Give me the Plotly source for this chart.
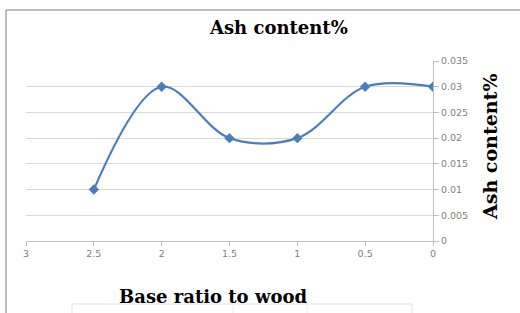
import plotly.graph_objects as go

base_ratio = [2.5, 2, 1.5, 1, 0.5, 0]
ash_content = [0.01, 0.03, 0.02, 0.02, 0.03, 0.03]
x_ticks = [3, 2.5, 2, 1.5, 1, 0.5, 0]
y_ticks = [0, 0.005, 0.01, 0.015, 0.02, 0.025, 0.03, 0.035]

W, H = 520, 313
L, R, T, B = 26, 87, 61, 72
pw, ph = W - L - R, H - T - B

def px(x):
    return (x - L) / pw

def py(y):
    return (H - B - y) / ph

fig = go.Figure()
fig.add_trace(go.Scatter(
    x=base_ratio, y=ash_content, mode="lines+markers",
    line=dict(color="#4A7EBB", width=2.2, shape="spline", smoothing=1.0),
    marker=dict(symbol="diamond", size=8, color="#4A7EBB"),
    showlegend=False,
))

tickfont = dict(family="DejaVu Sans", size=9.5, color="#7F7F7F")
titlefont = dict(family="DejaVu Serif", size=18, color="black")
fig.update_layout(
    width=W, height=H,
    margin=dict(l=L, r=R, t=T, b=B),
    paper_bgcolor="white", plot_bgcolor="white",
    xaxis=dict(range=[3, 0], tickvals=x_ticks, ticktext=[str(v) for v in x_ticks],
               showgrid=False, zeroline=False, showline=True, linecolor="#BFBFBF",
               ticks="outside", ticklen=4, tickcolor="#BFBFBF", tickfont=tickfont),
    yaxis=dict(range=[0, 0.035], tickvals=y_ticks, ticktext=[str(v) if v else "0" for v in y_ticks],
               side="right", showgrid=True, gridcolor="#D9D9D9", zeroline=False,
               showline=True, linecolor="#BFBFBF", ticks="outside", ticklen=5,
               tickcolor="#BFBFBF", tickfont=tickfont),
    annotations=[
        dict(text="<b>Ash content%</b>", xref="paper", yref="paper", x=px(278), y=py(27),
             xanchor="center", yanchor="middle", showarrow=False, font=titlefont),
        dict(text="<b>Base ratio to wood</b>", xref="paper", yref="paper", x=px(213), y=py(296),
             xanchor="center", yanchor="middle", showarrow=False, font=titlefont),
        dict(text="<b>Ash content%</b>", xref="paper", yref="paper", x=px(490), y=py(147),
             xanchor="center", yanchor="middle", showarrow=False, textangle=-90,
             font=dict(family="DejaVu Serif", size=19, color="black")),
    ],
    shapes=[
        dict(type="line", xref="paper", yref="paper", x0=px(6), x1=px(6), y0=py(10), y1=py(320),
             line=dict(color="#A6A6A6", width=1.5)),
        dict(type="line", xref="paper", yref="paper", x0=px(6), x1=px(525), y0=py(10), y1=py(10),
             line=dict(color="#A6A6A6", width=1.5)),
        dict(type="rect", xref="paper", yref="paper", x0=px(72), x1=px(412), y0=py(304), y1=py(320),
             line=dict(color="#E3E3E3", width=1)),
        dict(type="line", xref="paper", yref="paper", x0=px(233), x1=px(233), y0=py(304), y1=py(320),
             line=dict(color="#EDEDED", width=1)),
        dict(type="line", xref="paper", yref="paper", x0=px(307), x1=px(307), y0=py(304), y1=py(320),
             line=dict(color="#EDEDED", width=1)),
    ],
)
fig.write_html("out.html", config={"displayModeBar": False},
               post_script="document.body.style.margin='0';document.body.style.overflow='hidden';")
